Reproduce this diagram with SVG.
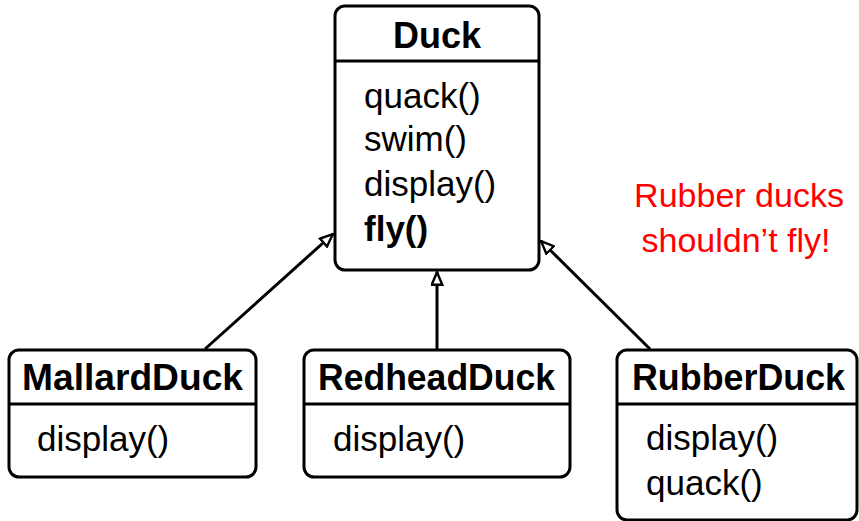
<svg xmlns="http://www.w3.org/2000/svg" width="859" height="521" viewBox="0 0 859 521">
  <defs>
    <marker id="inherit" viewBox="0 0 15 13" refX="14" refY="6.5" markerWidth="15" markerHeight="13" markerUnits="userSpaceOnUse" orient="auto">
      <path d="M1.2,1.2 L13.8,6.5 L1.2,11.8 Z" fill="#fff" stroke="#000" stroke-width="2.4" stroke-linejoin="miter"/>
    </marker>
  </defs>
  <style>
    .box { fill: #fff; stroke: #000; stroke-width: 3; }
    .div { stroke: #000; stroke-width: 3; }
    .title { font-family: "Liberation Sans", Arial, sans-serif; font-weight: bold; font-size: 36px; text-anchor: middle; fill: #000; }
    .meth { font-family: "Liberation Sans", Arial, sans-serif; font-size: 35px; fill: #000; }
    .bold { font-weight: bold; }
    .note { font-family: "Liberation Sans", Arial, sans-serif; font-size: 34px; text-anchor: middle; fill: #ff0000; }
    .edge { stroke: #000; stroke-width: 3; fill: none; marker-end: url(#inherit); }
  </style>

  <g id="connectors">
    <line class="edge" x1="205" y1="349" x2="333" y2="234"/>
    <line class="edge" x1="437" y1="349" x2="437" y2="272"/>
    <line class="edge" x1="650" y1="349" x2="541" y2="241"/>
  </g>

  <g id="duck">
    <rect class="box" x="335" y="6" width="204" height="264" rx="10"/>
    <line class="div" x1="335" y1="61" x2="539" y2="61"/>
    <text class="title" x="437" y="48" textLength="88" lengthAdjust="spacingAndGlyphs">Duck</text>
    <text class="meth" x="364" y="108">quack()</text>
    <text class="meth" x="364" y="151">swim()</text>
    <text class="meth" x="364" y="196">display()</text>
    <text class="meth bold" x="364" y="241">fly()</text>
  </g>

  <g id="mallard">
    <rect class="box" x="9" y="350" width="247" height="127" rx="10"/>
    <line class="div" x1="9" y1="404" x2="256" y2="404"/>
    <text class="title" x="132.5" y="390" textLength="221" lengthAdjust="spacingAndGlyphs">MallardDuck</text>
    <text class="meth" x="37" y="451">display()</text>
  </g>

  <g id="redhead">
    <rect class="box" x="304" y="350" width="266" height="127" rx="10"/>
    <line class="div" x1="304" y1="404" x2="570" y2="404"/>
    <text class="title" x="436.5" y="390" textLength="237" lengthAdjust="spacingAndGlyphs">RedheadDuck</text>
    <text class="meth" x="333" y="451">display()</text>
  </g>

  <g id="rubber">
    <rect class="box" x="617" y="350" width="240" height="170" rx="10"/>
    <line class="div" x1="617" y1="404" x2="857" y2="404"/>
    <text class="title" x="738.5" y="390" textLength="213" lengthAdjust="spacingAndGlyphs">RubberDuck</text>
    <text class="meth" x="646" y="450">display()</text>
    <text class="meth" x="646" y="495">quack()</text>
  </g>

  <g id="note">
    <text class="note" x="739" y="207">Rubber ducks</text>
    <text class="note" x="736" y="252">shouldn’t fly!</text>
  </g>
</svg>
